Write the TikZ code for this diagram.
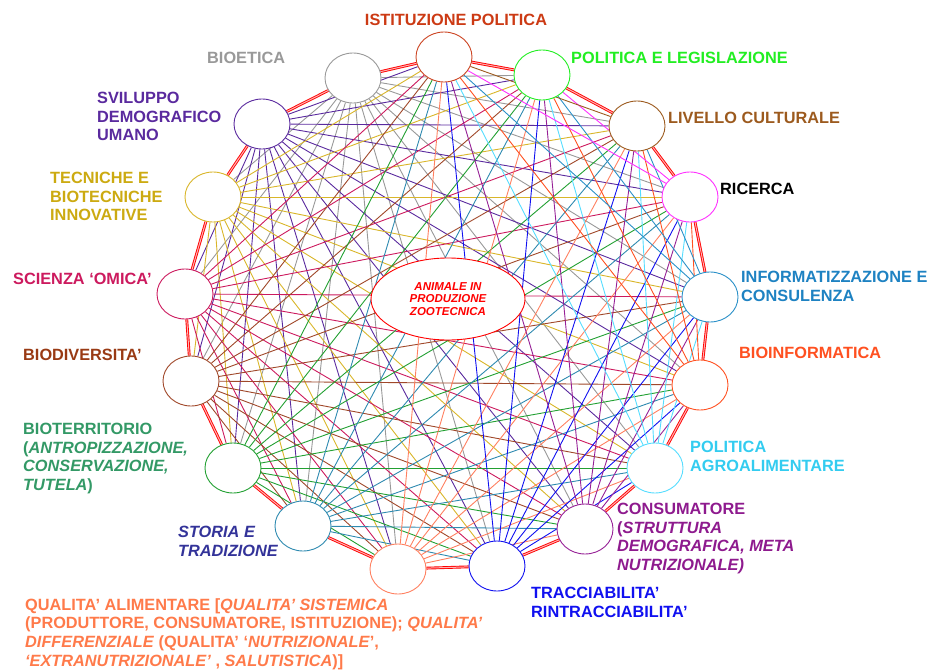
\documentclass[tikz,border=0pt]{standalone}
\usepackage{fontspec}
\setmainfont{Liberation Sans}
\usetikzlibrary{shapes.geometric}
\pgfdeclarelayer{bg}
\pgfsetlayers{bg,main}
\definecolor{col1}{HTML}{999999}
\definecolor{col2}{HTML}{5A2A9E}
\definecolor{col3}{HTML}{D9B62A}
\definecolor{col4}{HTML}{CC1A5E}
\definecolor{col5}{HTML}{A0482A}
\definecolor{col6}{HTML}{22A032}
\definecolor{col7}{HTML}{2E8AB0}
\definecolor{col8}{HTML}{FF8060}
\definecolor{col9}{HTML}{1010F0}
\definecolor{col10}{HTML}{962096}
\definecolor{col11}{HTML}{55DDFF}
\definecolor{col12}{HTML}{FF5020}
\definecolor{col13}{HTML}{2A90C8}
\definecolor{col14}{HTML}{FF30FF}
\definecolor{col15}{HTML}{9C5A1E}
\definecolor{col16}{HTML}{22EE22}
\definecolor{col17}{HTML}{CC4422}
\definecolor{lab3}{HTML}{CCAA11}
\definecolor{lab5}{HTML}{993A14}
\definecolor{lab6}{HTML}{339966}
\definecolor{lab7}{HTML}{333399}
\definecolor{lab8}{HTML}{FF7A4A}
\definecolor{lab10}{HTML}{8E1A8E}
\definecolor{lab11}{HTML}{33CCF0}
\definecolor{lab13}{HTML}{1E82C2}
\definecolor{lab17}{HTML}{CC3A14}
\tikzset{
  ring/.style={draw=red, line width=.9pt, double=red!30, double distance=1pt},
  link/.style={line width=.9pt},
  blob/.style={ellipse, fill=white, line width=.9pt, minimum width=56pt,
    minimum height=50pt, inner sep=0pt},
  lab/.style={font=\fontsize{16.3}{18.7}\selectfont\bfseries, align=left,
    inner sep=0pt, anchor=north west},
}
\begin{document}
\begin{tikzpicture}[x=1pt,y=-1pt]
  \useasboundingbox (0,0) rectangle (936,671);
  \foreach \i/\x/\y in {1/353/78, 2/262/124, 3/213/197, 4/185/294, 5/191/381,
      6/233/468, 7/303/526, 8/398/569, 9/497/566, 10/585/529, 11/655/468,
      12/700/385, 13/710/297, 14/690/197, 15/637/126, 16/542/75, 17/444/57}
    \node[blob, draw=col\i] (c\i) at (\x,\y) {};
  \begin{pgfonlayer}{bg}
    \foreach \i in {1,...,15} {
      \pgfmathtruncatemacro\jmin{\i+2}
      \pgfmathtruncatemacro\jmax{ifthenelse(\i==1,16,17)}
      \foreach \j in {\jmin,...,\jmax}
        \draw[link, draw=col\i] (c\i) -- (c\j);
    }
    \foreach \i in {1,...,17} {
      \pgfmathtruncatemacro\j{mod(\i,17)+1}
      \draw[ring] (c\i) -- (c\j);
    }
  \end{pgfonlayer}
  \node[ellipse, draw=red, fill=white, line width=.9pt, minimum width=154pt,
    minimum height=82pt, inner sep=0pt, text=red, align=center,
    font=\fontsize{11.5}{12.4}\selectfont\bfseries\itshape]
    (animale) at (448,299) {ANIMALE IN\\PRODUZIONE\\ZOOTECNICA};
  \node[lab, anchor=north, text=lab17] (l17) at (456,14) {ISTITUZIONE POLITICA};
  \node[lab, text=col16] (l16) at (571,52) {POLITICA E LEGISLAZIONE};
  \node[lab, text=col1] (l1) at (207,52) {BIOETICA};
  \node[lab, text=col15] (l15) at (668,112) {LIVELLO CULTURALE};
  \node[lab, text=black] (l14) at (720,183) {RICERCA};
  \node[lab, text=lab13] (l13) at (741,271) {INFORMATIZZAZIONE E\\CONSULENZA};
  \node[lab, text=col12] (l12) at (739,347) {BIOINFORMATICA};
  \node[lab, text=lab11] (l11) at (690,441) {POLITICA\\AGROALIMENTARE};
  \node[lab, text=lab10] (l10) at (617,503)
    {CONSUMATORE\\(\textit{STRUTTURA}\\\textit{DEMOGRAFICA, META}\\\textit{NUTRIZIONALE)}};
  \node[lab, text=col9] (l9) at (531,587) {TRACCIABILITA'\\RINTRACCIABILITA'};
  \node[lab, text=lab8] (l8) at (25,598)
    {QUALITA' ALIMENTARE [\textit{QUALITA' SISTEMICA}\\
     (PRODUTTORE, CONSUMATORE, ISTITUZIONE); \textit{QUALITA'}\\
     \textit{DIFFERENZIALE} (QUALITA' `\textit{NUTRIZIONALE}',\\
     \textit{`EXTRANUTRIZIONALE'} , \textit{SALUTISTICA})]};
  \node[lab, text=lab7] (l7) at (178,526) {\textit{STORIA E}\\\textit{TRADIZIONE}};
  \node[lab, text=lab6] (l6) at (23,423)
    {BIOTERRITORIO\\(\textit{ANTROPIZZAZIONE,}\\\textit{CONSERVAZIONE,}\\\textit{TUTELA})};
  \node[lab, text=lab5] (l5) at (23,349) {BIODIVERSITA'};
  \node[lab, text=col4] (l4) at (13,273) {SCIENZA `OMICA'};
  \node[lab, text=lab3] (l3) at (50,172) {TECNICHE E\\BIOTECNICHE\\INNOVATIVE};
  \node[lab, text=col2] (l2) at (97,92) {SVILUPPO\\DEMOGRAFICO\\UMANO};
\end{tikzpicture}
\end{document}
